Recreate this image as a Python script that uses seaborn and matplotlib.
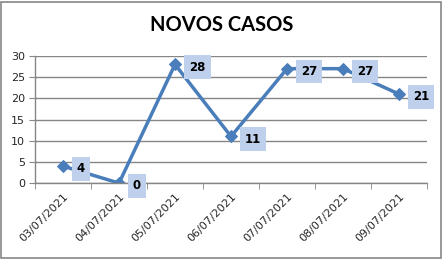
import matplotlib
matplotlib.use("Agg")
import matplotlib.pyplot as plt
import seaborn as sns
import pandas as pd
import numpy as np
from matplotlib.patches import Rectangle

dates = ["03/07/2021", "04/07/2021", "05/07/2021", "06/07/2021",
         "07/07/2021", "08/07/2021", "09/07/2021"]
cases = [4, 0, 28, 11, 27, 27, 21]
yticks = [0, 5, 10, 15, 20, 25, 30]

sns.set_style("white")
plt.rcParams['font.family'] = ['DejaVu Sans']

df = pd.DataFrame({"pos": np.arange(len(dates)), "cases": cases})

fig = plt.figure(figsize=(4.43, 2.59), dpi=100)
ax = fig.add_axes([0.079, 0.293, 0.885, 0.491])
line_color = "#4a7ebb"
sns.lineplot(data=df, x="pos", y="cases", ax=ax, color=line_color, linewidth=2.5,
             marker="D", markersize=6, markeredgecolor=line_color)

ax.set_xlim(-0.5, len(dates) - 0.5)
ax.set_ylim(0, 30)
ax.set_yticks(yticks)
ax.set_yticklabels([str(v) for v in yticks], fontsize=8)
ax.set_xticks(np.arange(len(dates)))
ax.set_xticklabels(dates, rotation=45, ha="right", rotation_mode="anchor", fontsize=8)
ax.set_xticks(np.arange(-0.5, len(dates)), minor=True)
ax.tick_params(axis="x", which="major", length=0, pad=6)
ax.tick_params(axis="x", which="minor", length=4, color="#868686", direction="out", bottom=True)
ax.tick_params(axis="y", length=4, color="#868686", direction="out", left=True, pad=3)
ax.set_xlabel("")
ax.set_ylabel("")
ax.yaxis.grid(True, color="#868686", linewidth=1)
ax.xaxis.grid(False)
for s in ["top", "right"]:
    ax.spines[s].set_visible(False)
for s in ["left", "bottom"]:
    ax.spines[s].set_color("#868686")
    ax.spines[s].set_linewidth(1)
ax.set_axisbelow(True)

for x, y in zip(df["pos"], df["cases"]):
    ax.annotate(str(y), (x, y), xytext=(10, -2), textcoords="offset points",
                ha="left", va="center", fontsize=8.5, fontweight="bold", color="black",
                bbox=dict(boxstyle="square,pad=0.45", facecolor="#bfd0ec", edgecolor="none"),
                zorder=5, annotation_clip=False)

fig.text(0.5, 0.905, "NOVOS CASOS", ha="center", va="center", color="black",
         fontsize=14.5, fontweight="bold", family=["Lato", "DejaVu Sans"])

fig.patches.append(Rectangle((0.002, 0.004), 0.993, 0.99, transform=fig.transFigure,
                             fill=False, edgecolor="#868686", linewidth=1.2))

fig.savefig("out.png", dpi=100)
